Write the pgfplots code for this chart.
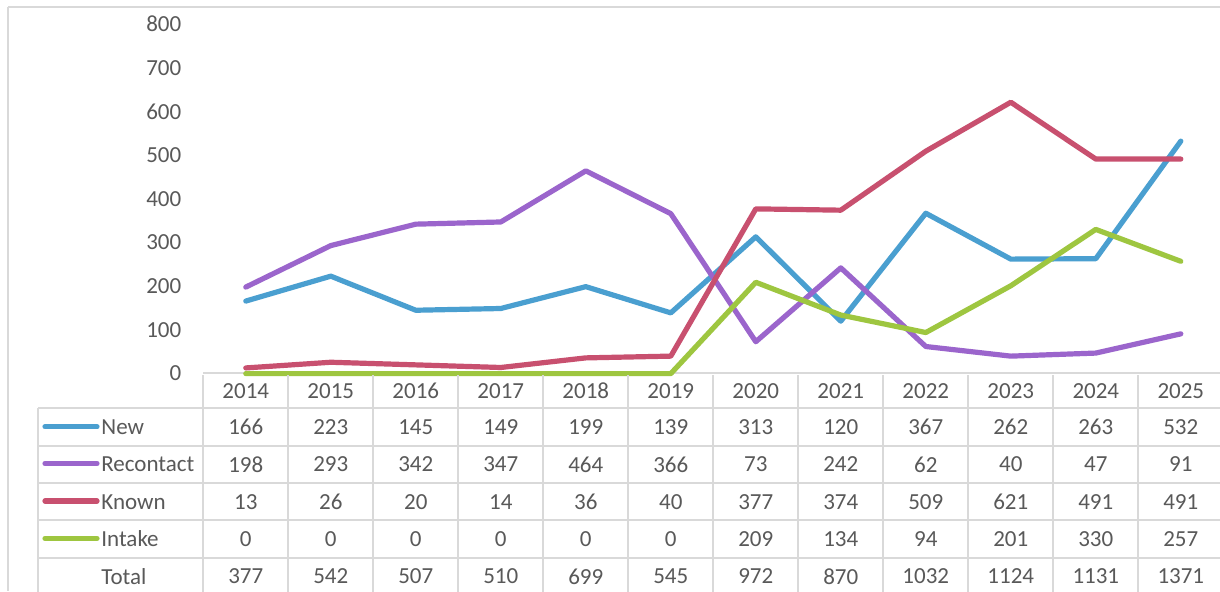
\documentclass[border=0pt]{standalone}
\usepackage{fontspec}
\setmainfont{Carlito}
\usepackage{pgfplots}
\pgfplotsset{compat=1.18}

\definecolor{cNew}{RGB}{74,159,208}
\definecolor{cRec}{RGB}{155,101,204}
\definecolor{cKnown}{RGB}{200,80,111}
\definecolor{cIntake}{RGB}{158,198,64}
\definecolor{txt}{RGB}{89,89,89}
\definecolor{rule}{RGB}{217,217,217}

\begin{document}
\begin{tikzpicture}[font=\fontsize{11.5}{13}\selectfont]
  % canvas in pixel units (1px = 0.5pt), y downwards
  \begin{scope}[x=0.5pt, y=-0.5pt]
    \fill[white] (0,0) rectangle (1220,591);
    \coordinate (origin) at (203.3,373.6);
    % top edge of the data table sits under the lines
    \draw[rule, line width=1pt] (203.3,373.3) -- (1225,373.3);
  \end{scope}

  \begin{axis}[
      at={(origin)}, anchor=south west,
      scale only axis,
      width=510pt, height=174.8pt,
      xmin=-0.5, xmax=11.5,
      ymin=0, ymax=800,
      xtick=\empty,
      ytick={0,100,...,800},
      axis line style={draw=none},
      major tick length=0pt,
      /pgf/number format/assume math mode=true,
      yticklabel style={font=\fontsize{11.5}{13}\selectfont, text=txt,
        anchor=east, inner sep=0pt, xshift=-10.8pt},
      clip=false,
      every axis plot/.style={line width=2.6pt, line join=round, line cap=round},
    ]
    % New
    \addplot[cNew] coordinates {
      (0,166) (1,223) (2,145) (3,149) (4,199) (5,139)
      (6,313) (7,120) (8,367) (9,262) (10,263) (11,532)};
    % Recontact
    \addplot[cRec] coordinates {
      (0,198) (1,293) (2,342) (3,347) (4,464) (5,366)
      (6,73) (7,242) (8,62) (9,40) (10,47) (11,91)};
    % Known
    \addplot[cKnown] coordinates {
      (0,13) (1,26) (2,20) (3,14) (4,36) (5,40)
      (6,377) (7,374) (8,509) (9,621) (10,491) (11,491)};
    % Intake
    \addplot[cIntake] coordinates {
      (0,0) (1,0) (2,0) (3,0) (4,0) (5,0)
      (6,209) (7,134) (8,94) (9,201) (10,330) (11,257)};
  \end{axis}

  \begin{scope}[x=0.5pt, y=-0.5pt]
  % outer chart border
  \draw[rule, line width=0.75pt] (8,7) -- (1220,7);
  \draw[rule, line width=0.75pt] (8,7) -- (8,591);

  % data table grid
  \foreach \yy in {408.3,445.7,483.3,520.3,557.7}
    \draw[rule, line width=1pt] (38.3,\yy) -- (1225,\yy);
  \draw[rule, line width=1pt] (38.3,408.3) -- (38.3,600);
  \foreach \k in {0,...,12}
    \draw[rule, line width=1pt] ({203.3+85*\k},375) -- ({203.3+85*\k},600);

  % header years
  \foreach \yr [count=\i from 0] in {2014,2015,2016,2017,2018,2019,2020,2021,2022,2023,2024,2025}
    \node[text=txt] at ({245.8+85*\i},390.8) {\yr};

  % legend keys and row labels
  \foreach \c/\yy in {cNew/426.8, cRec/463.5, cKnown/501, cIntake/538.3}
    \draw[\c, line width=2.6pt, line cap=round] (45,\yy) -- (97,\yy);
  \foreach \lab/\yy in {New/427, Recontact/464.5, Known/502, Intake/539, Total/576.5}
    \node[text=txt, anchor=west, inner sep=0pt] at (101,\yy) {\lab};

  % table values
  \foreach \v [count=\i from 0] in {166,223,145,149,199,139,313,120,367,262,263,532}
    \node[text=txt] at ({245.8+85*\i},427) {\v};
  \foreach \v [count=\i from 0] in {198,293,342,347,464,366,73,242,62,40,47,91}
    \node[text=txt] at ({245.8+85*\i},464.5) {\v};
  \foreach \v [count=\i from 0] in {13,26,20,14,36,40,377,374,509,621,491,491}
    \node[text=txt] at ({245.8+85*\i},502) {\v};
  \foreach \v [count=\i from 0] in {0,0,0,0,0,0,209,134,94,201,330,257}
    \node[text=txt] at ({245.8+85*\i},539) {\v};
  \foreach \v [count=\i from 0] in {377,542,507,510,699,545,972,870,1032,1124,1131,1371}
    \node[text=txt] at ({245.8+85*\i},576.5) {\v};
  \end{scope}

  % page is exactly the 1220 x 591 canvas
  \pgfresetboundingbox
  \useasboundingbox[x=0.5pt, y=-0.5pt] (0,0) rectangle (1220,591);
\end{tikzpicture}
\end{document}
